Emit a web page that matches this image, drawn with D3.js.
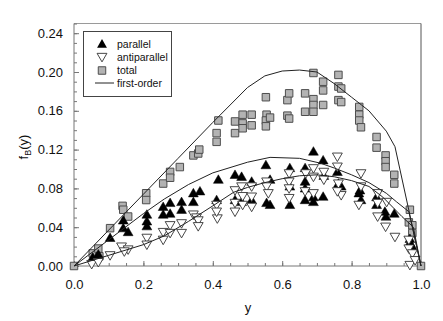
<!DOCTYPE html>
<html>
<head>
<meta charset="utf-8">
<script src="https://cdn.jsdelivr.net/npm/d3@7"></script>
<style>
  body { margin: 0; background: #fff; }
  svg { display: block; font-family: "Liberation Sans", Arial, sans-serif; }
</style>
</head>
<body>
<div id="chart"></div>
<script>
// data: [y, fB(y)]
var parallel = [
  [0.054,0.009],[0.07,0.012],[0.104,0.029],[0.142,0.047],[0.142,0.039],[0.156,0.035],
  [0.21,0.053],[0.21,0.041],[0.21,0.046],[0.257,0.061],[0.257,0.053],[0.277,0.065],
  [0.277,0.054],[0.31,0.066],[0.31,0.058],[0.344,0.075],[0.344,0.066],[0.363,0.077],
  [0.416,0.089],[0.411,0.068],[0.464,0.094],[0.464,0.068],[0.483,0.092],[0.483,0.066],
  [0.512,0.087],[0.512,0.068],[0.553,0.104],[0.565,0.089],[0.555,0.065],[0.565,0.063],
  [0.622,0.101],[0.622,0.082],[0.622,0.063],[0.666,0.101],[0.666,0.087],[0.666,0.08],
  [0.666,0.068],[0.69,0.118],[0.69,0.071],[0.69,0.066],[0.718,0.109],[0.72,0.093],
  [0.718,0.0715],[0.759,0.097],[0.762,0.085],[0.77,0.082],[0.824,0.078],[0.821,0.075],
  [0.827,0.068],[0.872,0.071],[0.872,0.063],[0.896,0.056],[0.899,0.051],[0.923,0.054],
  [0.968,0.028],[0.968,0.024],[0.975,0.02]
];
var antiparallel = [
  [0.051,0.002],[0.07,0.004],[0.104,0.011],[0.137,0.020],[0.156,0.017],[0.145,0.015],
  [0.21,0.029],[0.21,0.022],[0.257,0.035],[0.257,0.027],[0.277,0.042],[0.277,0.034],
  [0.31,0.044],[0.31,0.034],[0.344,0.053],[0.353,0.050],[0.358,0.047],[0.358,0.041],
  [0.411,0.063],[0.413,0.049],[0.411,0.056],[0.464,0.078],[0.464,0.065],[0.464,0.056],
  [0.483,0.082],[0.486,0.072],[0.486,0.063],[0.512,0.082],[0.512,0.0715],[0.512,0.061],
  [0.555,0.087],[0.555,0.082],[0.56,0.075],[0.62,0.0955],[0.62,0.087],[0.62,0.080],
  [0.62,0.07],[0.668,0.0955],[0.666,0.077],[0.69,0.1007],[0.69,0.092],[0.69,0.075],
  [0.72,0.097],[0.72,0.089],[0.759,0.1127],[0.759,0.1024],[0.762,0.085],[0.77,0.073],
  [0.759,0.077],[0.827,0.0955],[0.827,0.082],[0.821,0.063],[0.875,0.075],[0.875,0.065],
  [0.875,0.051],[0.901,0.066],[0.898,0.0405],[0.925,0.030],[0.965,0.027],[0.965,0.018],
  [0.975,0.013],[0.968,0.001],[0.983,0.006]
];
var total = [
  [0,0],[0.054,0.013],[0.07,0.018],[0.073,0.010],[0.104,0.039],[0.140,0.062],[0.142,0.058],
  [0.156,0.051],[0.208,0.075],[0.208,0.068],[0.257,0.085],[0.277,0.097],[0.277,0.091],
  [0.305,0.102],[0.344,0.114],[0.358,0.116],[0.361,0.120],[0.411,0.137],[0.411,0.128],
  [0.416,0.150],[0.464,0.149],[0.464,0.137],[0.486,0.156],[0.486,0.147],[0.486,0.142],
  [0.512,0.156],[0.512,0.145],[0.553,0.174],[0.555,0.156],[0.553,0.150],[0.553,0.144],
  [0.565,0.153],[0.615,0.171],[0.615,0.155],[0.62,0.178],[0.62,0.152],[0.666,0.178],
  [0.666,0.159],[0.69,0.199],[0.69,0.172],[0.69,0.166],[0.69,0.159],[0.718,0.190],
  [0.718,0.181],[0.718,0.166],[0.762,0.197],[0.762,0.185],[0.77,0.183],[0.762,0.171],
  [0.77,0.169],[0.822,0.164],[0.822,0.156],[0.822,0.150],[0.827,0.143],[0.872,0.133],
  [0.872,0.122],[0.898,0.114],[0.898,0.108],[0.898,0.102],[0.923,0.094],[0.923,0.085],
  [0.968,0.058],[0.965,0.045],[0.975,0.042],[0.975,0.034],[1.0,0]
];
// first-order curves
var firstTotal = [
  [0,0],[0.1,0.037],[0.2,0.074],[0.3,0.111],[0.4,0.148],[0.5,0.184],[0.55,0.196],
  [0.6,0.201],[0.65,0.202],[0.7,0.200],[0.75,0.188],[0.8,0.174],[0.85,0.160],
  [0.9,0.139],[0.925,0.123],[1.0,0]
];
var firstParallel = [
  [0,0],[0.1,0.027],[0.2,0.054],[0.26,0.069],[0.33,0.084],[0.4,0.096],[0.5,0.107],
  [0.565,0.112],[0.65,0.111],[0.71,0.106],[0.75,0.101],[0.8,0.094],[0.85,0.086],
  [0.9,0.075],[0.93,0.066],[0.965,0.056],[1.0,0]
];
var firstAnti = [
  [0,0],[0.1,0.011],[0.2,0.022],[0.26,0.031],[0.33,0.046],[0.4,0.062],[0.46,0.076],
  [0.5,0.081],[0.55,0.086],[0.6,0.09],[0.65,0.093],[0.7,0.094],[0.75,0.092],
  [0.8,0.088],[0.85,0.082],[0.89,0.071],[0.945,0.051],[0.978,0.040],[1.0,0]
];
var xTicks = [0, 0.2, 0.4, 0.6, 0.8, 1.0];
var yTicks = [0, 0.04, 0.08, 0.12, 0.16, 0.20, 0.24];
var legendLabels = ["parallel", "antiparallel", "total", "first-order"];

function init() {
  var w = 443, h = 321;
  var svg = d3.select("#chart").append("svg").attr("width", w).attr("height", h);

  var x = d3.scaleLinear().domain([0, 1]).range([74, 421]);
  var y = d3.scaleLinear().domain([0, 0.25]).range([266, 23.5]);

  // frame
  svg.append("line").attr("x1", x(0)).attr("x2", x(1)).attr("y1", y(0.25)).attr("y2", y(0.25))
    .attr("stroke", "#9a9a9a");
  svg.append("line").attr("x1", x(1)).attr("x2", x(1)).attr("y1", y(0.25)).attr("y2", y(0))
    .attr("stroke", "#555");

  // axes, ticks point inward
  var xMinor = d3.range(0, 1.0001, 0.05);
  var yMinor = d3.range(0, 0.2501, 0.01);
  var gx = svg.append("g").attr("transform", "translate(0," + y(0) + ")")
    .call(d3.axisBottom(x).tickValues(xMinor).tickSize(-3).tickFormat(""));
  var gx2 = svg.append("g").attr("transform", "translate(0," + y(0) + ")")
    .call(d3.axisBottom(x).tickValues(xTicks).tickSize(-5).tickPadding(14).tickFormat(d3.format(".1f")));
  var gy = svg.append("g").attr("transform", "translate(" + x(0) + ",0)")
    .call(d3.axisLeft(y).tickValues(yMinor).tickSize(-3).tickFormat(""));
  var gy2 = svg.append("g").attr("transform", "translate(" + x(0) + ",0)")
    .call(d3.axisLeft(y).tickValues(yTicks).tickSize(-5).tickPadding(11).tickFormat(d3.format(".2f")));
  [gx, gx2, gy, gy2].forEach(function(g) {
    g.selectAll("path").attr("stroke", "#777");
    g.selectAll("line").attr("stroke", "#777");
    g.selectAll("text").attr("font-size", "13px").attr("fill", "#111")
      .attr("font-family", "'Liberation Sans', Arial, sans-serif");
  });
  gx.select(".domain").attr("d", "M" + x(0) + ",0H" + x(1));
  gy.select(".domain").attr("d", "M0," + y(0) + "V" + y(0.25));
  gx2.select(".domain").remove();
  gy2.select(".domain").remove();

  // axis titles
  svg.append("text").attr("x", 248).attr("y", 312).attr("text-anchor", "middle")
    .attr("font-size", "13px").attr("fill", "#111").text("y");
  var yt = svg.append("text").attr("transform", "translate(28,147) rotate(-90)")
    .attr("text-anchor", "middle").attr("font-size", "13px").attr("fill", "#111");
  yt.append("tspan").text("f");
  yt.append("tspan").attr("font-size", "9px").attr("dy", 3).text("B");
  yt.append("tspan").attr("dy", -3).text("(y)");

  var sq = d3.symbol().type(d3.symbolSquare).size(56);
  var tri = d3.symbol().type(d3.symbolTriangle).size(42);

  // total
  svg.append("g").selectAll("path").data(total).enter().append("path")
    .attr("d", sq)
    .attr("transform", function(d) { return "translate(" + x(d[0]) + "," + y(d[1]) + ")"; })
    .attr("fill", "#b3b3b3").attr("stroke", "#4d4d4d").attr("stroke-width", 1);

  // parallel
  svg.append("g").selectAll("path").data(parallel).enter().append("path")
    .attr("d", tri)
    .attr("transform", function(d) { return "translate(" + x(d[0]) + "," + (y(d[1]) + 0.8) + ")"; })
    .attr("fill", "#000").attr("stroke", "#000").attr("stroke-width", 0.5);

  // antiparallel
  svg.append("g").selectAll("path").data(antiparallel).enter().append("path")
    .attr("d", tri)
    .attr("transform", function(d) { return "translate(" + x(d[0]) + "," + (y(d[1]) - 0.8) + ") rotate(180)"; })
    .attr("fill", "#fff").attr("stroke", "#333").attr("stroke-width", 0.9);

  // first-order lines
  var line = d3.line().x(function(d) { return x(d[0]); }).y(function(d) { return y(d[1]); });
  [firstTotal, firstParallel, firstAnti].forEach(function(c) {
    svg.append("path").datum(c).attr("d", line)
      .attr("fill", "none").attr("stroke", "#222").attr("stroke-width", 1);
  });

  // legend
  var lg = svg.append("g");
  lg.append("rect").attr("x", 83.5).attr("y", 31.5).attr("width", 88).attr("height", 65)
    .attr("fill", "#fff").attr("stroke", "#444");
  var ly = [44, 57, 70.5, 83];
  lg.selectAll("text").data(legendLabels).enter().append("text")
    .attr("x", 117).attr("y", function(d, i) { return ly[i] + 3.5; })
    .attr("font-size", "10.5px").attr("fill", "#111").text(function(d) { return d; });
  lg.append("path").attr("d", tri).attr("transform", "translate(102," + (ly[0] + 0.8) + ")")
    .attr("fill", "#000");
  lg.append("path").attr("d", tri).attr("transform", "translate(102," + (ly[1] - 0.8) + ") rotate(180)")
    .attr("fill", "#fff").attr("stroke", "#333").attr("stroke-width", 0.9);
  lg.append("path").attr("d", sq).attr("transform", "translate(102," + ly[2] + ")")
    .attr("fill", "#b3b3b3").attr("stroke", "#4d4d4d");
  lg.append("line").attr("x1", 95).attr("x2", 114).attr("y1", ly[3]).attr("y2", ly[3])
    .attr("stroke", "#222");
}
window.onload = init;
</script>
</body>
</html>
